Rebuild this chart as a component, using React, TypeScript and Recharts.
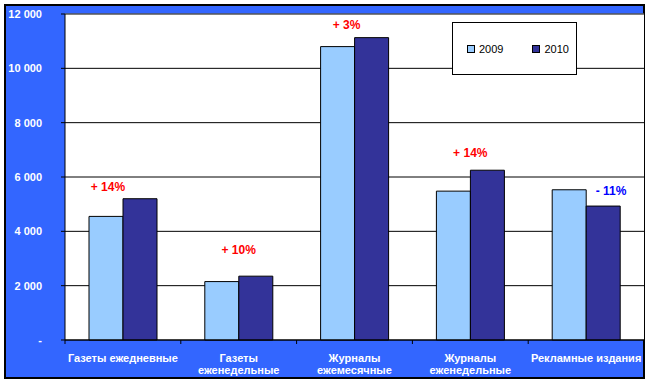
import { BarChart, Bar, XAxis, YAxis, CartesianGrid, ReferenceLine, ReferenceDot } from 'recharts'

// data
const categories = ['Газеты ежедневные', 'Газеты\nеженедельные', 'Журналы\nежемесячные', 'Журналы\nеженедельные', 'Рекламные издания']
const values2009 = [4550, 2150, 10800, 5480, 5530]
const values2010 = [5200, 2350, 11130, 6250, 4930]
const changeLabels = ['+ 14%', '+ 10%', '+ 3%', '+ 14%', '- 11%']
const changeLevels = [5650, 3320, 11600, 6900, 5470]
const yTicks = [0, 2000, 4000, 6000, 8000, 10000, 12000]

// layout
const FONT = '"Liberation Sans", Arial, sans-serif'
const PLOT_LEFT = 65
const PLOT_RIGHT = 644
const BAND = (PLOT_RIGHT - PLOT_LEFT) / categories.length
const NOTE_DX = [-15, 0, -8, 0, 25]

const data = categories.map((c, i) => ({ name: c, y2009: values2009[i], y2010: values2010[i] }))

const fmtY = (v: number) => (v === 0 ? '-' : v.toLocaleString('en-US').replace(/,/g, ' '))

function CategoryTick(props: any) {
  const { x, y, payload, index } = props
  const lines = String(payload.value).split('\n')
  return (
    <g>
      <line x1={x - BAND / 2} x2={x - BAND / 2} y1={y} y2={y + 4} stroke="#000" />
      {index === categories.length - 1 && (
        <line x1={x + BAND / 2} x2={x + BAND / 2} y1={y} y2={y + 4} stroke="#000" />
      )}
      <text x={x} y={y + 21.5} textAnchor="middle" fill="#fff" fontSize={11} fontWeight="bold" fontFamily={FONT}>
        {lines.map((l, i) => (
          <tspan key={i} x={x} dy={i === 0 ? 0 : 12.5}>{l}</tspan>
        ))}
      </text>
    </g>
  )
}

function noteLabel(i: number) {
  return (p: any) => {
    const vb = p.viewBox
    return (
      <text
        x={vb.x + vb.width / 2 + NOTE_DX[i]}
        y={vb.y + vb.height / 2 + 4}
        textAnchor="middle"
        fill={changeLabels[i].startsWith('-') ? '#0000FF' : '#FF0000'}
        fontSize={12}
        fontWeight="bold"
        fontFamily={FONT}
      >
        {changeLabels[i]}
      </text>
    )
  }
}

function LegendBox() {
  const item = (color: string, label: string) => (
    <div style={{ display: 'flex', alignItems: 'center', marginRight: 29 }}>
      <div style={{ width: 6, height: 6, background: color, border: '1px solid #000', marginRight: 4 }} />
      <span>{label}</span>
    </div>
  )
  return (
    <div
      style={{
        position: 'absolute', left: 452, top: 22, width: 125, height: 53, boxSizing: 'border-box',
        background: '#fff', border: '1px solid #000', display: 'flex', alignItems: 'center',
        paddingLeft: 14, fontFamily: FONT, fontSize: 11, color: '#000',
      }}
    >
      {item('#99CCFF', '2009')}
      {item('#333399', '2010')}
    </div>
  )
}

export default function App() {
  return (
    <div style={{ position: 'absolute', left: 0, top: 0, width: 650, height: 383, background: '#fff' }}>
      <div
        style={{
          position: 'absolute', left: 4, top: 4, width: 641, height: 375, boxSizing: 'border-box',
          background: '#3366FF', border: '2px solid #000',
        }}
      />
      <div style={{ position: 'absolute', left: 0, top: 0 }}>
        <BarChart width={650} height={383} data={data} margin={{ top: 14, right: 650 - PLOT_RIGHT, bottom: 0, left: 0 }} barGap={0}>
          <CartesianGrid vertical={false} stroke="#000" fill="#fff" fillOpacity={1} />
          <XAxis
            dataKey="name"
            height={43}
            interval={0}
            axisLine={{ stroke: '#000' }}
            tickLine={false}
            tickSize={0}
            tickMargin={0}
            tick={<CategoryTick />}
          />
          <YAxis
            width={PLOT_LEFT}
            domain={[0, 12000]}
            ticks={yTicks}
            interval={0}
            tickFormatter={fmtY}
            axisLine={{ stroke: '#000' }}
            tickLine={{ stroke: '#000' }}
            tickSize={4}
            tickMargin={19}
            tick={{ fill: '#fff', fontSize: 11, fontWeight: 'bold', fontFamily: FONT }}
          />
          <ReferenceLine y={12000} stroke="#808080" />
          <Bar dataKey="y2009" name="2009" fill="#99CCFF" stroke="#000" strokeWidth={1} barSize={34} isAnimationActive={false} />
          <Bar dataKey="y2010" name="2010" fill="#333399" stroke="#000" strokeWidth={1} barSize={34} isAnimationActive={false} />
          {categories.map((c, i) => (
            <ReferenceDot key={c} x={c} y={changeLevels[i]} r={0} fill="none" stroke="none" label={noteLabel(i)} />
          ))}
        </BarChart>
      </div>
      <LegendBox />
    </div>
  )
}
